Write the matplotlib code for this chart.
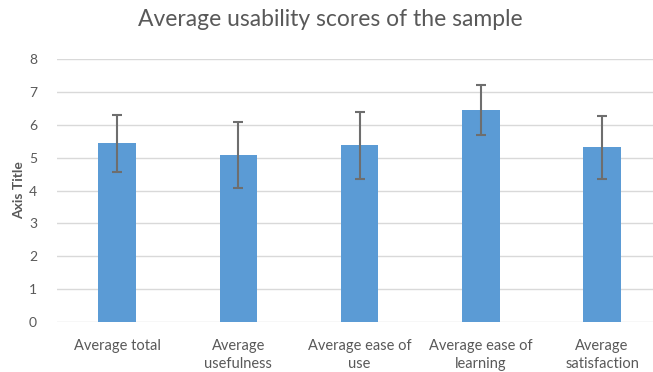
import matplotlib.pyplot as plt

categories = ["Average total", "Average\nusefulness", "Average ease of\nuse",
              "Average ease of\nlearning", "Average\nsatisfaction"]
means = [5.43, 5.07, 5.38, 6.44, 5.32]
errors = [0.86, 1.00, 1.02, 0.76, 0.96]
yticks = [0, 1, 2, 3, 4, 5, 6, 7, 8]

plt.rcParams["font.family"] = ["Lato", "DejaVu Sans"]
grey = "#595959"

fig = plt.figure(dpi=100, figsize=(6.53, 3.72))
ax = fig.add_axes([56.5 / 653, 50 / 372, 1 - 56.5 / 653, 263 / 372])

x = list(range(len(categories)))
ax.bar(x, means, width=0.31, color="#5B9BD5", zorder=3)
ax.errorbar(x, means, yerr=errors, fmt="none", ecolor="#6E6E6E",
            elinewidth=1.5, capsize=3.5, capthick=1.5, zorder=4)

ax.set_xlim(-0.5, 4.42)
ax.set_ylim(0, 8)
ax.set_yticks(yticks)
ax.set_xticks(x)
ax.set_xticklabels(categories, fontsize=10.5, color=grey, linespacing=1.35)
ax.tick_params(axis="y", labelsize=10, labelcolor=grey, length=0, pad=14)
ax.tick_params(axis="x", length=0, pad=12)
ax.grid(axis="y", color="#D9D9D9", linewidth=1, zorder=0)
for s in ax.spines.values():
    s.set_visible(False)

ax.set_ylabel("Axis Title", fontsize=10, color=grey, fontweight="bold", labelpad=3)
fig.text(330 / 653, 1 - 20 / 372, "Average usability scores of the sample",
         fontsize=16.5, color=grey, ha="center", va="center")

fig.savefig("out.png", dpi=100)
